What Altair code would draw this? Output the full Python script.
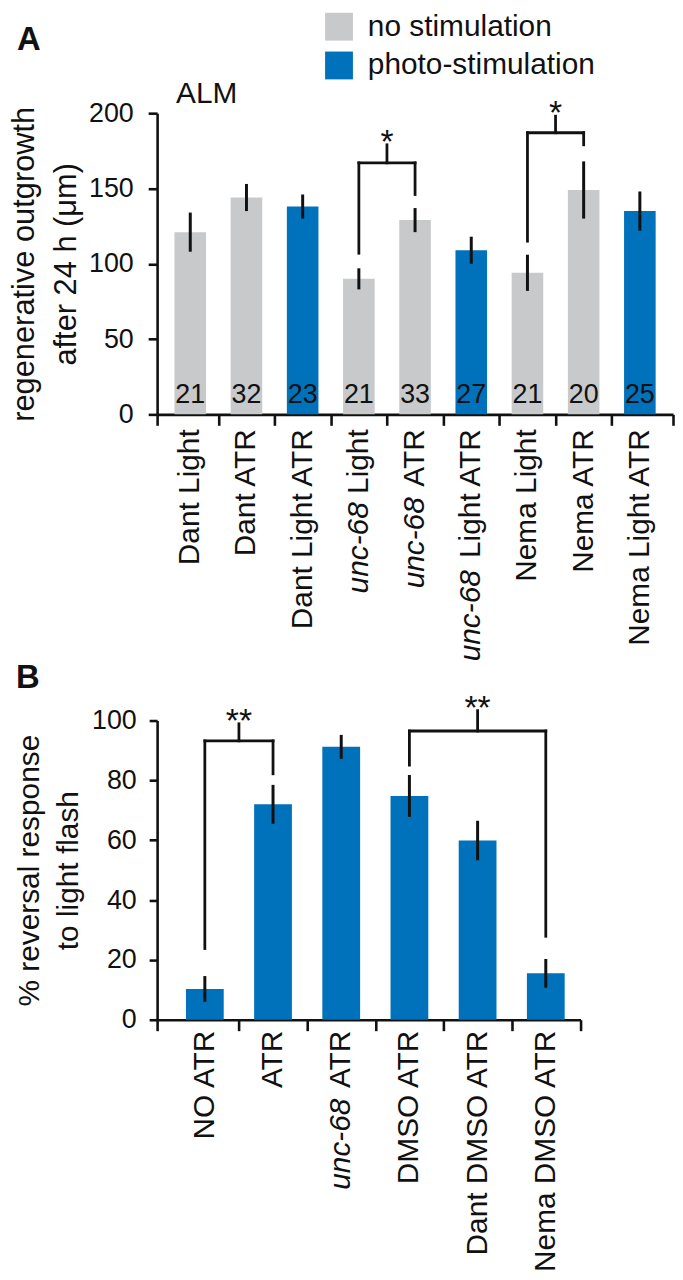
import altair as alt
import pandas as pd

FONT = "Liberation Sans"
GRAY = "#c8c9cb"
BLUE = "#0071bb"
INK = "#111111"

# ---------------- Panel A data ----------------
a_labels = ["Dant Light", "Dant ATR", "Dant Light ATR", "unc-68 Light", "unc-68 ATR",
            "unc-68 Light ATR", "Nema Light", "Nema ATR", "Nema Light ATR"]
a_values = [121, 144, 138, 90, 129, 109, 94, 149, 135]
a_errors = [13, 9, 8, 7, 8, 9, 12, 19, 13]
a_counts = ["21", "32", "23", "21", "33", "27", "21", "20", "25"]
a_groups = ["no stimulation", "no stimulation", "photo-stimulation",
            "no stimulation", "no stimulation", "photo-stimulation",
            "no stimulation", "no stimulation", "photo-stimulation"]
a_ticks = [0, 50, 100, 150, 200]

# significance brackets, panel A
a_br_left = [3, 6]
a_br_right = [4, 7]
a_br_level = [167, 187]
a_br_left_end = [107, 115]
a_br_right_end = [146, 179]
a_br_top = [179, 198]
a_br_text = ["*", "*"]

# ---------------- Panel B data ----------------
b_labels = ["NO ATR", "ATR", "unc-68 ATR", "DMSO ATR", "Dant DMSO ATR", "Nema DMSO ATR"]
b_values = [10.3, 72, 91.2, 74.8, 59.9, 15.5]
b_errors = [4.3, 6.5, 4.0, 7.0, 6.6, 4.8]
b_ticks = [0, 20, 40, 60, 80, 100]

b_br_left = [0, 3]
b_br_right = [1, 5]
b_br_level = [93.2, 96.5]
b_br_left_end = [23.8, 85.1]
b_br_right_end = [82.2, 27.9]
b_br_top = [98.9, 103.3]
b_br_text = ["**", "**"]

ITALIC_PREFIX = "unc-68"

# Arial / Liberation Sans advance widths (per 1000 em)
WIDTHS = {' ': 278, 'A': 667, 'D': 722, 'L': 556, 'M': 833, 'N': 722, 'O': 778, 'R': 722,
          'S': 667, 'T': 611, 'a': 556, 'e': 556, 'g': 556, 'h': 556, 'i': 222, 'm': 833,
          'n': 556, 't': 278, 'u': 556, 'c': 500, '-': 333, '6': 556, '8': 556}


def text_width(s, fs):
    return sum(WIDTHS.get(ch, 556) for ch in s) * fs / 1000.0


def split_label(lab):
    if lab.startswith(ITALIC_PREFIX + " "):
        return ITALIC_PREFIX, lab[len(ITALIC_PREFIX) + 1:]
    return "", lab


def make_df(labels, values, errors):
    df = pd.DataFrame({"label": labels, "value": values, "err": errors})
    df["idx"] = list(range(len(labels)))
    df["zero"] = 0
    parts = [split_label(l) for l in labels]
    df["italic"] = [p[0] for p in parts]
    df["roman"] = [p[1] for p in parts]
    return df


def make_br(left, right, level, lend, rend, top, text):
    return pd.DataFrame({"left": left, "right": right, "level": level,
                         "lend": lend, "rend": rend, "top": top, "text": text})


def panel(df, br, xdomain, ydomain, yticks, ytitle, width, height, half,
          tick_fs, title_fs, title_lh, title_pad, label_fs, label_gap,
          ytick_size, ylabel_pad, color_enc, star_fs, extra_layers):
    xvals = [xdomain[0]] + [i + 0.5 for i in range(len(df) - 1)] + [xdomain[1]]
    xscale = alt.Scale(domain=xdomain, nice=False, zero=False)
    yscale = alt.Scale(domain=ydomain, nice=False, zero=True)
    xaxis = alt.Axis(values=xvals, labels=False, title=None, grid=False, tickSize=11,
                     tickWidth=2.6, domainWidth=2.6, domainColor=INK, tickColor=INK)
    yaxis = alt.Axis(values=yticks, title=ytitle, grid=False, tickSize=ytick_size,
                     tickWidth=2.6, domainWidth=2.6, domainColor=INK, tickColor=INK,
                     labelFontSize=tick_fs, labelColor=INK, labelPadding=ylabel_pad,
                     titleFontSize=title_fs, titleFontWeight="normal", titleColor=INK,
                     titleLineHeight=title_lh, titlePadding=title_pad)

    def xe(f):
        return alt.X(f + ":Q", scale=xscale, axis=xaxis)

    def ye(f):
        return alt.Y(f + ":Q", scale=yscale, axis=yaxis)

    base = alt.Chart(df)
    bars = base.transform_calculate(
        xl=f"datum.idx - {half}", xr=f"datum.idx + {half}"
    ).mark_bar().encode(x=xe("xl"), x2="xr:Q", y=ye("value"), y2="zero:Q", color=color_enc)

    errs = base.transform_calculate(
        lo="datum.value - datum.err", hi="datum.value + datum.err"
    ).mark_rule(color=INK, strokeWidth=3).encode(x=xe("idx"), y=ye("lo"), y2="hi:Q")

    layers = [bars, errs]

    # category labels (rotated), with italic gene prefix
    layers.append(base.mark_text(angle=270, align="right", baseline="middle",
                                 fontSize=label_fs, dx=-label_gap, color=INK).encode(
        x=xe("idx"), y=ye("zero"), text="roman:N"))
    rests = sorted(set(df.loc[df["italic"] != "", "roman"]))
    for rest in rests:
        w = text_width(" " + rest, label_fs)
        layers.append(base.transform_filter(
            f"datum.italic != '' && datum.roman == '{rest}'"
        ).mark_text(angle=270, align="right", baseline="middle", fontSize=label_fs,
                    fontStyle="italic", dx=-label_gap - w, color=INK).encode(
            x=xe("idx"), y=ye("zero"), text="italic:N"))

    # significance brackets
    bb = alt.Chart(br).transform_calculate(mid="(datum.left + datum.right) / 2")
    rule_kw = dict(color=INK, strokeWidth=2.8, strokeCap="square")
    layers.append(bb.mark_rule(**rule_kw).encode(x=xe("left"), x2="right:Q", y=ye("level")))
    layers.append(bb.mark_rule(**rule_kw).encode(x=xe("left"), y=ye("lend"), y2="level:Q"))
    layers.append(bb.mark_rule(**rule_kw).encode(x=xe("right"), y=ye("rend"), y2="level:Q"))
    layers.append(bb.mark_rule(**rule_kw).encode(x=xe("mid"), y=ye("level"), y2="top:Q"))
    layers.append(bb.mark_text(fontSize=star_fs, baseline="alphabetic", align="center",
                               dy=8, color=INK).encode(x=xe("mid"), y=ye("top"), text="text:N"))

    layers.extend(extra_layers)
    return alt.layer(*layers).properties(width=width, height=height)


# ---------------- Panel A ----------------
df_a = make_df(a_labels, a_values, a_errors)
df_a["count"] = a_counts
df_a["group"] = a_groups
br_a = make_br(a_br_left, a_br_right, a_br_level, a_br_left_end, a_br_right_end, a_br_top, a_br_text)

color_a = alt.Color("group:N",
                    scale=alt.Scale(domain=["no stimulation", "photo-stimulation"], range=[GRAY, BLUE]),
                    legend=alt.Legend(orient="none", legendX=168, legendY=-102, title=None,
                                      symbolType="square", symbolSize=784, symbolStrokeWidth=0,
                                      labelFontSize=30, labelColor=INK, labelOffset=14,
                                      labelLimit=600, rowPadding=9, padding=0,
                                      direction="vertical"))

xs_a = alt.Scale(domain=[-0.59, 8.59], nice=False, zero=False)
ys_a = alt.Scale(domain=[0, 200], nice=False)

counts_a = alt.Chart(df_a).mark_text(fontSize=27, baseline="alphabetic", dy=-11, color=INK).encode(
    x=alt.X("idx:Q", scale=xs_a), y=alt.Y("zero:Q", scale=ys_a), text="count:N")
tag_a = alt.Chart(pd.DataFrame({"t": ["A"]})).mark_text(
    fontSize=33, fontWeight="bold", align="left", baseline="alphabetic", color=INK).encode(
    x=alt.value(-141), y=alt.value(-64), text="t:N")
alm = alt.Chart(pd.DataFrame({"t": ["ALM"]})).mark_text(
    fontSize=30, align="left", baseline="alphabetic", color=INK).encode(
    x=alt.value(19), y=alt.value(-10), text="t:N")

panel_a = panel(df_a, br_a, [-0.59, 8.59], [0, 200], a_ticks,
                ["regenerative outgrowth", "after 24 h (μm)"], 519, 303, 0.281,
                27, 31, 42, 6, 30, 15, 9, 15, color_a, 34, [counts_a, tag_a, alm])

# ---------------- Panel B ----------------
df_b = make_df(b_labels, b_values, b_errors)
br_b = make_br(b_br_left, b_br_right, b_br_level, b_br_left_end, b_br_right_end, b_br_top, b_br_text)

tag_b = alt.Chart(pd.DataFrame({"t": ["B"]})).mark_text(
    fontSize=33, fontWeight="bold", align="left", baseline="alphabetic", color=INK).encode(
    x=alt.value(-142), y=alt.value(-33), text="t:N")

panel_b = panel(df_b, br_b, [-0.7, 5.51], [0, 100], b_ticks,
                ["% reversal response", "to light flash"], 426, 301, 0.277,
                27, 30, 39, 8, 30, 11, 8, 13, alt.value(BLUE), 34, [tag_b])

chart = alt.vconcat(panel_a, panel_b, spacing=308, bounds="flush").resolve_scale(
    x="independent", y="independent", color="independent"
).properties(padding=0).configure(font=FONT).configure_view(stroke=None)

chart.save("out.html", embed_options={"renderer": "svg", "actions": False})
